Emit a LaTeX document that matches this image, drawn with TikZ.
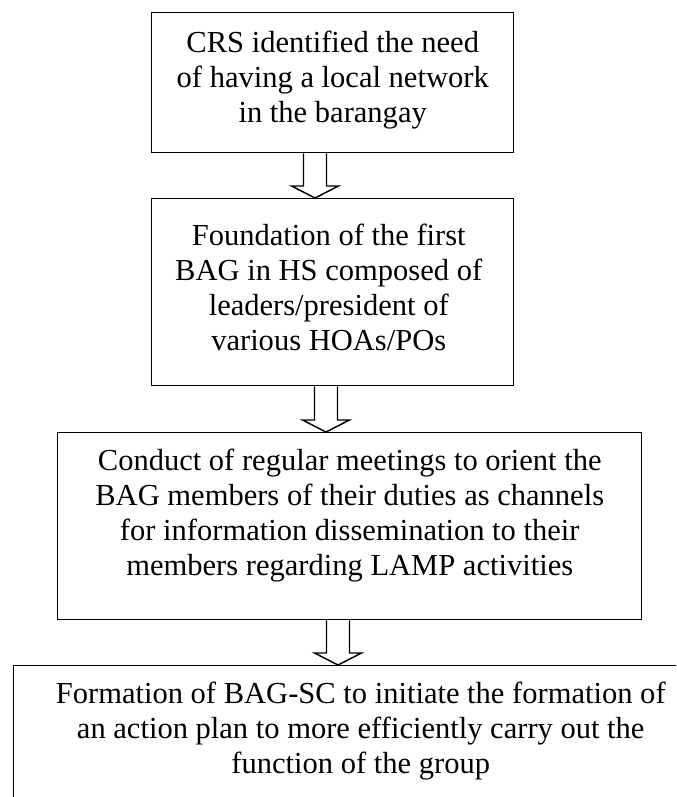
\documentclass[tikz,border=0pt]{standalone}
\usepackage{fontspec}
\setmainfont{Liberation Serif}
\usetikzlibrary{calc}

\tikzset{
  stepbox/.style={draw, line width=1.1pt, inner sep=0pt, anchor=north west},
  steptext/.style={align=center, inner sep=0pt, anchor=north,
    font=\fontsize{22.9}{26.25}\selectfont},
  arrowline/.style={draw, line width=1.1pt, line join=miter},
}

% hollow block arrow from the bottom of box #1 to the top of box #2, axis at x=#3
\newcommand\flowarrow[3]{%
  \coordinate (#1-top) at (#3,0 |- #1.south);
  \coordinate (#1-tip) at (#3,0 |- #2.north);
  \draw[arrowline] ($(#1-top)+(-11.5,0)$) -- ($(#1-tip)+(-11.5,12)$)
    -- ($(#1-tip)+(-23.5,12)$) -- (#1-tip) -- ($(#1-tip)+(23.5,12)$)
    -- ($(#1-tip)+(11.5,12)$) -- ($(#1-top)+(11.5,0)$);
}

\begin{document}
\begin{tikzpicture}[x=0.75pt,y=0.75pt]
\useasboundingbox (0,0) rectangle (676,-797);
\clip (0,0) rectangle (676,-797);

% boxes
\node[stepbox, minimum width=362*0.75pt, minimum height=140*0.75pt] (b1) at (151,-12) {};
\node[stepbox, minimum width=362*0.75pt, minimum height=187*0.75pt] (b2) at (151,-198) {};
\node[stepbox, minimum width=584*0.75pt, minimum height=187*0.75pt] (b3) at (57,-432) {};
\node[stepbox, minimum width=694*0.75pt, minimum height=200*0.75pt] (b4) at (13,-665) {};

% texts
\node[steptext] (t1) at ($(b1.north)+(0,-15.5)$)
  {\strut CRS identified the need\\of having a local network\\in the barangay};
\node[steptext] (t2) at ($(b2.north)+(-4,-22.5)$)
  {\strut Foundation of the first\\BAG in HS composed of\\leaders/president of\\various HOAs/POs};
\node[steptext] (t3) at ($(b3.north)+(0,-13.5)$)
  {\strut Conduct of regular meetings to orient the\\BAG members of their duties as channels\\for information dissemination to their\\members regarding LAMP activities};
\node[steptext] (t4) at ($(b4.north)+(0,-13.5)$)
  {\strut Formation of BAG-SC to initiate the formation of\\an action plan to more efficiently carry out the\\function of the group};

% connectors
\flowarrow{b1}{b2}{315}
\flowarrow{b2}{b3}{326}
\flowarrow{b3}{b4}{338}
\end{tikzpicture}
\end{document}
